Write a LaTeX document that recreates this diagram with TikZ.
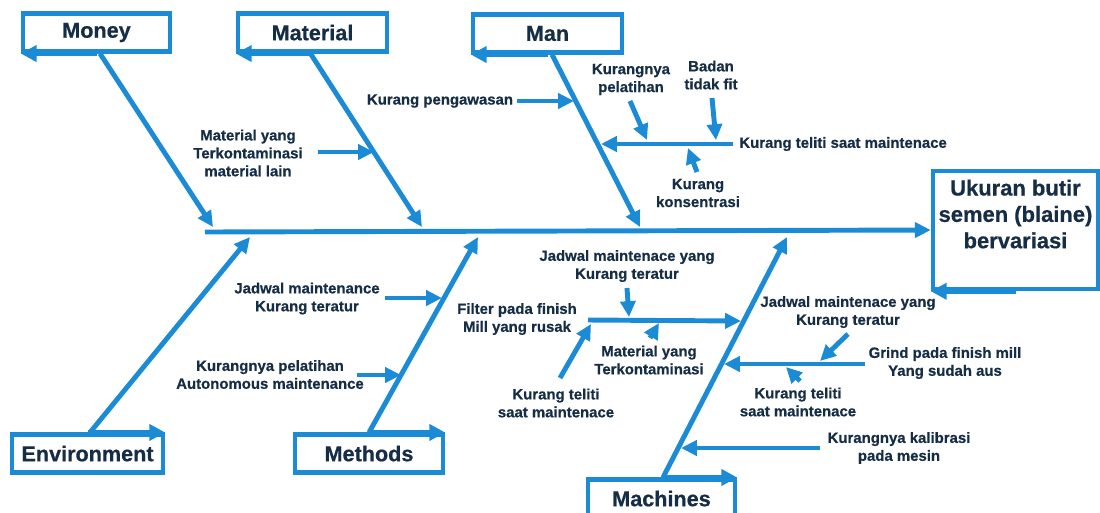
\documentclass[tikz,border=0pt]{standalone}
\usepackage{fontspec}
\setmainfont{Liberation Sans}[BoldFeatures={FakeBold=0.6}]
\usetikzlibrary{arrows.meta}
\definecolor{fbblue}{RGB}{27,139,214}
\definecolor{fbtext}{RGB}{22,45,70}
\begin{document}
\begin{tikzpicture}[x=0.02cm,y=-0.02cm,
  bone/.style={draw=fbblue, line width=2.8pt, -{Triangle[length=9pt,width=8.5pt]}},
  boxarr/.style={draw=fbblue, line width=2.6pt, -{Triangle[length=9pt,width=9pt]}},
  catbox/.style={draw=fbblue, line width=2.6pt, fill=white, minimum height=0.75cm,
    font=\fontsize{12.3}{14}\selectfont\bfseries, text=fbtext, inner sep=0pt},
  headbox/.style={draw=fbblue, line width=2.6pt, minimum width=3.3cm, minimum height=2.36cm, inner sep=0pt},
  headtxt/.style={font=\fontsize{12.5}{15}\selectfont\bfseries, text=fbtext, align=center, inner sep=0pt},
  lbl/.style={font=\fontsize{8.5}{10.2}\selectfont\bfseries, text=fbtext, align=center, inner sep=0pt}
]
\useasboundingbox[fill=white] (0,0) rectangle (1100,512);

% spine and head
\node[headbox] (head) at (1015.5,230) {};
\node[headtxt] (headt) at (1015.5,214) {Ukuran butir\\semen (blaine)\\bervariasi};
\coordinate (spL) at (205,232);
\draw[bone] (spL) -- (head.west);
\draw[boxarr] (head.south) -- (head.south west);

% category boxes
\node[catbox, minimum width=2.94cm] (money) at (96.5,32.5) {Money};
\node[catbox, minimum width=2.98cm] (material) at (312.5,32.5) {Material};
\node[catbox, minimum width=2.98cm] (man) at (547.5,33.5) {Man};
\node[catbox, minimum width=3.02cm] (env) at (87.5,453.5) {Environment};
\node[catbox, minimum width=2.96cm] (methods) at (369,453.5) {Methods};
\node[catbox, minimum width=2.94cm] (machines) at (661.5,498.5) {Machines};

\draw[boxarr] (money.south) -- (money.south west);
\draw[boxarr] (material.south) -- (material.south west);
\draw[boxarr] (man.south) -- (man.south west);
\draw[boxarr] (env.north) -- (env.north east);
\draw[boxarr] (methods.north) -- (methods.north east);
\draw[boxarr] (machines.north) -- (machines.north east);

% main bones
\coordinate (mo2) at (213,227);
\coordinate (ma2) at (422,227);
\coordinate (mn2) at (640,227);
\coordinate (en2) at (250,237);
\coordinate (me2) at (478,237);
\coordinate (mc2) at (787,237);
\draw[bone] ([xshift=0.07cm]money.south) -- (mo2);
\draw[bone] ([xshift=-0.04cm]material.south) -- (ma2);
\draw[bone] ([xshift=0.09cm]man.south) -- (mn2);
\draw[bone] ([xshift=0.05cm]env.north) -- (en2);
\draw[bone] (methods.north) -- (me2);
\draw[bone] ([xshift=0.03cm]machines.north) -- (mc2);

% Material causes
\node[lbl] (tMatl) at (248,153) {Material yang\\Terkontaminasi\\material lain};
\coordinate (a1s) at (318,152); \coordinate (a1e) at (374,152);
\draw[bone] (a1s) -- (a1e);

% Man causes
\node[lbl] (tPeng) at (440,101) {Kurang pengawasan};
\coordinate (a2s) at (517,101); \coordinate (a2e) at (574,101);
\draw[bone] (a2s) -- (a2e);
\node[lbl, anchor=west] (tKtsm) at (739,144) {Kurang teliti saat maintenace};
\coordinate (b1s) at (733,144); \coordinate (b1e) at (601,144);
\draw[bone] (b1s) -- (b1e);
\node[lbl] (tPel) at (631,79.5) {Kurangnya\\pelatihan};
\coordinate (a3s) at (630,101); \coordinate (a3e) at (647,140);
\draw[bone] (a3s) -- (a3e);
\node[lbl] (tBadan) at (711,75) {Badan\\tidak fit};
\coordinate (a4s) at (712,98); \coordinate (a4e) at (716,140);
\draw[bone] (a4s) -- (a4e);
\node[lbl] (tKons) at (698,193) {Kurang\\konsentrasi};
\coordinate (a5s) at (697,172); \coordinate (a5e) at (688,148);
\draw[bone] (a5s) -- (a5e);

% Methods causes
\node[lbl] (tJm1) at (307,298.5) {Jadwal maintenance\\Kurang teratur};
\coordinate (a6s) at (385,298); \coordinate (a6e) at (442,298);
\draw[bone] (a6s) -- (a6e);
\node[lbl] (tKpa) at (270,374.5) {Kurangnya pelatihan\\Autonomous maintenance};
\coordinate (a7s) at (357,375); \coordinate (a7e) at (401,375);
\draw[bone] (a7s) -- (a7e);

% Machines causes
\node[lbl] (tFilter) at (517,319) {Filter pada finish\\Mill yang rusak};
\coordinate (b2s) at (588,320); \coordinate (b2e) at (741,321);
\draw[bone] (b2s) -- (b2e);
\node[lbl] (tJm2) at (627,266) {Jadwal maintenace yang\\Kurang teratur};
\coordinate (a8s) at (627,288); \coordinate (a8e) at (629,317);
\draw[bone] (a8s) -- (a8e);
\node[lbl] (tMy) at (649,360) {Material yang\\Terkontaminasi};
\coordinate (a9s) at (650,338); \coordinate (a9e) at (659,323);
\draw[bone] (a9s) -- (a9e);
\node[lbl] (tKt1) at (556,403) {Kurang teliti\\saat maintenace};
\coordinate (a10s) at (560,378); \coordinate (a10e) at (591,324);
\draw[bone] (a10s) -- (a10e);

\node[lbl] (tGrind) at (945,363) {Grind pada finish mill\\Yang sudah aus};
\coordinate (b3s) at (865,364); \coordinate (b3e) at (724,364);
\draw[bone] (b3s) -- (b3e);
\node[lbl] (tJm3) at (848,312) {Jadwal maintenace yang\\Kurang teratur};
\coordinate (a11s) at (848,334); \coordinate (a11e) at (820,361);
\draw[bone] (a11s) -- (a11e);
\node[lbl] (tKt2) at (798,402) {Kurang teliti\\saat maintenace};
\coordinate (a12s) at (800,381); \coordinate (a12e) at (786,367);
\draw[bone] (a12s) -- (a12e);
\node[lbl] (tKal) at (899,448) {Kurangnya kalibrasi\\pada mesin};
\coordinate (a13s) at (820,448); \coordinate (a13e) at (681,448);
\draw[bone] (a13s) -- (a13e);
\end{tikzpicture}
\end{document}
